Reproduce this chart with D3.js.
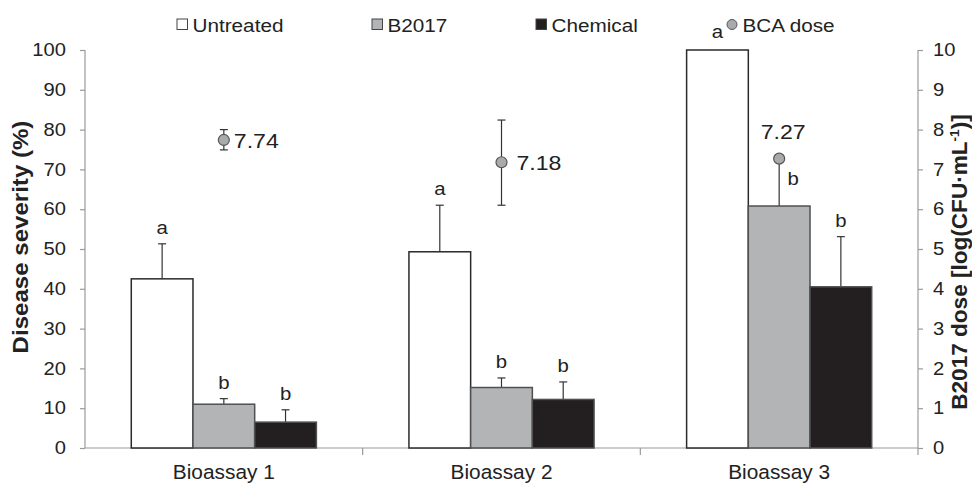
<!DOCTYPE html>
<html>
<head>
<meta charset="utf-8">
<script src="https://cdn.jsdelivr.net/npm/d3@7"></script>
<style>
  body { margin: 0; background: #fff; }
  svg { font-family: "Liberation Sans", Arial, sans-serif; }
</style>
</head>
<body>
<svg id="chart" width="972" height="483"></svg>
<script>
// data
const bioensayos = ["Bioassay 1", "Bioassay 2", "Bioassay 3"];
const tratamientos = ["Untreated", "B2017", "Chemical"];
const untreated = [42.5, 49.3, 100];
const b2017 = [11.0, 15.2, 60.8];
const chemical = [6.5, 12.2, 40.5];
const errUntreated = [51.3, 61.0, 100];
const errB2017 = [12.4, 17.6, 72.0];
const errChemical = [9.6, 16.6, 53.1];
const letrasUntreated = ["a", "a", "a"];
const letrasB2017 = ["b", "b", "b"];
const letrasChemical = ["b", "b", "b"];
const dosis = [7.74, 7.18, 7.27];
const dosisMin = [7.49, 6.10, 7.27];
const dosisMax = [8.00, 8.24, 7.27];
const ticksIzq = [0, 10, 20, 30, 40, 50, 60, 70, 80, 90, 100];
const ticksDer = [0, 1, 2, 3, 4, 5, 6, 7, 8, 9, 10];

const colores = { Untreated: "#ffffff", B2017: "#b3b4b6", Chemical: "#231f20" };
const bordes = { Untreated: "#2a2a2a", B2017: "#505050", Chemical: "#505050" };

const svg = d3.select("#chart");
const m = { left: 85, right: 918, top: 50, bottom: 448 };

const x = d3.scaleBand().domain(bioensayos).range([m.left, m.right]);
const xi = d3.scaleBand().domain(tratamientos).range([0, x.bandwidth()]).paddingOuter(0.75).paddingInner(0);
const y = d3.scaleLinear().domain([0, 100]).range([m.bottom, m.top]);
const y2 = d3.scaleLinear().domain([0, 10]).range([m.bottom, m.top]);

const axisGris = "#9a9a9a";

// the original font is wider than Arial: stretch text horizontally
function estirar(sel, k) {
  sel.each(function () {
    const t = d3.select(this);
    const tx = +t.attr("x") || 0, ty = +t.attr("y") || 0;
    t.attr("x", 0).attr("y", 0).attr("transform", `translate(${tx},${ty}) scale(${k},1)`);
  });
}

// left axis
const gy = svg.append("g").attr("transform", `translate(${m.left},0)`)
  .call(d3.axisLeft(y).tickValues(ticksIzq).tickSize(5).tickPadding(14));
// right axis
const gy2 = svg.append("g").attr("transform", `translate(${m.right},0)`)
  .call(d3.axisRight(y2).tickValues(ticksDer).tickSize(5).tickPadding(10));
// x axis
const gx = svg.append("g").attr("transform", `translate(0,${m.bottom})`)
  .call(d3.axisBottom(x).tickSize(0).tickPadding(17));
gx.selectAll(".tick").append("line")
  .attr("x1", x.bandwidth() / 2).attr("x2", x.bandwidth() / 2)
  .attr("y1", 0).attr("y2", 7);
gx.append("line").attr("x1", m.left).attr("x2", m.left).attr("y1", 0).attr("y2", 7);

[gy, gy2, gx].forEach(g => {
  g.select(".domain").attr("stroke", axisGris).attr("stroke-width", 1.2);
  g.selectAll(".tick line").attr("stroke", axisGris).attr("stroke-width", 1.2);
  g.selectAll("text").attr("fill", "#222").style("font-size", "18px").style("font-family", "Liberation Sans, Arial, sans-serif");
});
gx.selectAll("text").style("font-size", "19.5px");
estirar(gy.selectAll("text"), 1.12);
estirar(gy2.selectAll("text"), 1.12);
estirar(gx.selectAll("text"), 1.07);
gx.select(".domain").attr("d", `M${m.left},0H${m.right}`);
gy.select(".domain").attr("d", `M0,${m.top}V${m.bottom}`);
gy2.select(".domain").attr("d", `M0,${m.top}V${m.bottom}`);

// bars
const series = [
  { nombre: "Untreated", vals: untreated, err: errUntreated, letras: letrasUntreated },
  { nombre: "B2017", vals: b2017, err: errB2017, letras: letrasB2017 },
  { nombre: "Chemical", vals: chemical, err: errChemical, letras: letrasChemical }
];

series.forEach(s => {
  const g = svg.append("g");
  bioensayos.forEach((b, i) => {
    const x0 = x(b) + xi(s.nombre);
    const cx = x0 + xi.bandwidth() / 2;
    // error bar
    if (s.err[i] > s.vals[i]) {
      g.append("line").attr("x1", cx).attr("x2", cx)
        .attr("y1", y(s.vals[i])).attr("y2", y(s.err[i]))
        .attr("stroke", "#333").attr("stroke-width", 1.2);
      g.append("line").attr("x1", cx - 4).attr("x2", cx + 4)
        .attr("y1", y(s.err[i])).attr("y2", y(s.err[i]))
        .attr("stroke", "#333").attr("stroke-width", 1.2);
    }
    g.append("rect")
      .attr("x", x0).attr("width", xi.bandwidth())
      .attr("y", y(s.vals[i])).attr("height", y(0) - y(s.vals[i]))
      .attr("fill", colores[s.nombre]).attr("stroke", bordes[s.nombre]).attr("stroke-width", 1.5);
  });
});

// significance letters
series.forEach(s => {
  bioensayos.forEach((b, i) => {
    let lx = x(b) + xi(s.nombre) + xi.bandwidth() / 2;
    let ly = y(s.err[i]) - 10;
    if (i === 2 && s.nombre === "Untreated") ly = y(s.err[i]) - 12;
    if (i === 2 && s.nombre === "B2017") { lx += 14; ly = y(s.err[i]) + 24; }
    const t = svg.append("text").attr("x", lx).attr("y", ly)
      .attr("text-anchor", "middle").attr("fill", "#222")
      .style("font-size", "18.5px").text(s.letras[i]);
    estirar(t, 1.1);
  });
});

// BCA dose points
bioensayos.forEach((b, i) => {
  const cx = x(b) + x.bandwidth() / 2;
  const g = svg.append("g");
  if (dosisMax[i] > dosisMin[i]) {
    g.append("line").attr("x1", cx).attr("x2", cx).attr("y1", y2(dosisMin[i])).attr("y2", y2(dosisMax[i]))
      .attr("stroke", "#333").attr("stroke-width", 1.2);
    [dosisMin[i], dosisMax[i]].forEach(v => {
      g.append("line").attr("x1", cx - 4).attr("x2", cx + 4).attr("y1", y2(v)).attr("y2", y2(v))
        .attr("stroke", "#333").attr("stroke-width", 1.2);
    });
  }
  g.append("circle").attr("cx", cx).attr("cy", y2(dosis[i])).attr("r", 5.5)
    .attr("fill", "#a9aaac").attr("stroke", "#555").attr("stroke-width", 1.2);
  const t = g.append("text").attr("fill", "#222").style("font-size", "21px").text(dosis[i].toFixed(2));
  if (i === 0) {
    t.attr("x", cx + 10).attr("y", y2(dosis[i]) + 8);
  } else if (i === 1) {
    t.attr("x", cx + 15).attr("y", y2(dosis[i]) + 8);
  } else {
    t.attr("x", cx + 4).attr("y", y2(dosis[i]) - 20).attr("text-anchor", "middle");
  }
  estirar(t, 1.1);
});

// legend
const leyenda = [
  { nombre: "Untreated", x: 177, tipo: "rect" },
  { nombre: "B2017", x: 372, tipo: "rect" },
  { nombre: "Chemical", x: 536, tipo: "rect" },
  { nombre: "BCA dose", x: 727, tipo: "circle" }
];
leyenda.forEach(l => {
  const g = svg.append("g");
  if (l.tipo === "rect") {
    g.append("rect").attr("x", l.x).attr("y", 19).attr("width", 10.5).attr("height", 10.5)
      .attr("fill", colores[l.nombre]).attr("stroke", "#444").attr("stroke-width", 1);
  } else {
    g.append("circle").attr("cx", l.x + 5).attr("cy", 24.5).attr("r", 5)
      .attr("fill", "#a9aaac").attr("stroke", "#555").attr("stroke-width", 1);
  }
  const t = g.append("text").attr("x", l.x + 15.5).attr("y", 31.5).attr("fill", "#222")
    .style("font-size", "18.5px").text(l.nombre);
  estirar(t, 1.12);
});

// axis titles
svg.append("text")
  .attr("transform", `translate(28,237) rotate(-90) scale(1.12,1)`)
  .attr("text-anchor", "middle").attr("fill", "#222")
  .style("font-size", "21.5px").style("font-weight", "bold")
  .text("Disease severity (%)");

const t2 = svg.append("text")
  .attr("transform", `translate(967,262) rotate(-90) scale(1.05,1)`)
  .attr("text-anchor", "middle").attr("fill", "#222")
  .style("font-size", "21.5px").style("font-weight", "bold");
t2.append("tspan").text("B2017 dose [log(CFU·mL");
t2.append("tspan").attr("dy", -8).style("font-size", "13px").text("-1");
t2.append("tspan").attr("dy", 8).text(")]");
</script>
</body>
</html>
